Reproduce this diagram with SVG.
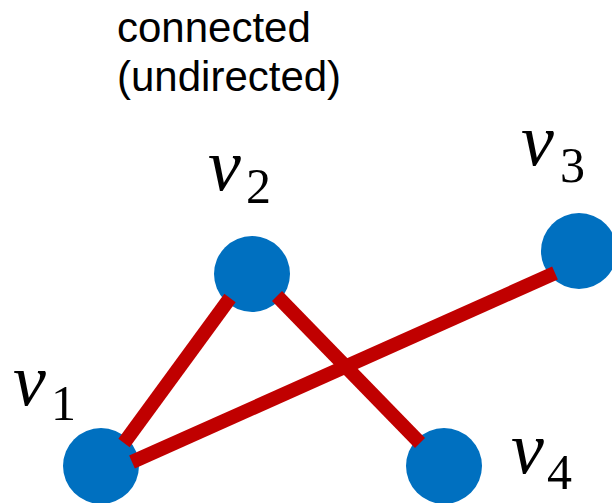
<svg xmlns="http://www.w3.org/2000/svg" width="612" height="503" viewBox="0 0 612 503">
<style>
.t{font-family:"Liberation Sans",Arial,sans-serif;font-size:42px;fill:#000}
.v{font-family:"Liberation Serif","DejaVu Serif",serif;font-style:italic;font-size:74px;fill:#000}
.s{font-family:"Liberation Serif","DejaVu Serif",serif;font-size:50px;fill:#000}
.n{fill:#0070C0}
.e{stroke:#C00000;stroke-width:14;fill:none}
</style>
<rect width="612" height="503" fill="#fff"/>
<g id="title">
<text class="t" x="117" y="42">connected</text>
<text class="t" x="117" y="91">(undirected)</text>
</g>
<g id="v1"><circle class="n" cx="101" cy="466" r="38"/><text x="13" y="405"><tspan class="v">v</tspan><tspan class="s" x="51" y="420">1</tspan></text></g>
<g id="v2"><circle class="n" cx="252" cy="274" r="38"/><text x="208" y="190"><tspan class="v">v</tspan><tspan class="s" x="246" y="203">2</tspan></text></g>
<g id="v3"><circle class="n" cx="579" cy="251" r="38"/><text x="521" y="165"><tspan class="v">v</tspan><tspan class="s" x="560" y="182">3</tspan></text></g>
<g id="v4"><circle class="n" cx="444" cy="466" r="38"/><text x="511" y="473"><tspan class="v">v</tspan><tspan class="s" x="547" y="489">4</tspan></text></g>
<g id="edges">
<line class="e" x1="124" y1="443" x2="230" y2="298"/>
<line class="e" x1="132" y1="462" x2="555" y2="273"/>
<line class="e" x1="277" y1="296" x2="420" y2="443"/>
</g>
</svg>
